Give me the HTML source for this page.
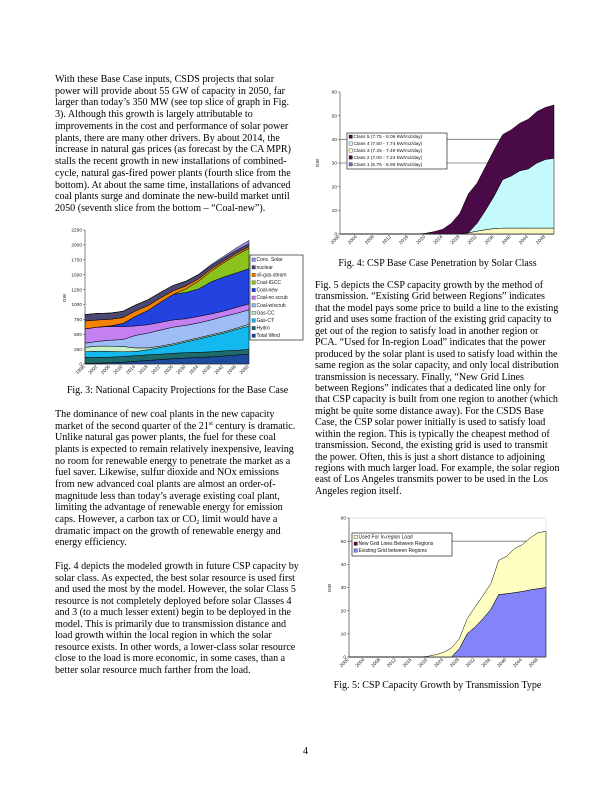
<!DOCTYPE html>
<html><head><meta charset="utf-8">
<style>
html,body{margin:0;padding:0;background:#fff;}
#page{position:relative;width:612px;height:792px;overflow:hidden;background:#fff;font-family:"Liberation Serif",serif;color:#000;}
.ln{position:absolute;white-space:nowrap;font-size:10.1px;line-height:11px;}
.ln sup,.ln sub{font-size:6px;line-height:0;vertical-align:baseline;position:relative;}
.ln sup{top:-4px;}
.ln sub{top:2px;}
.cap{position:absolute;white-space:nowrap;font-size:10px;text-align:center;}
svg{position:absolute;left:0;top:0;}
svg text{font-family:"Liberation Sans",sans-serif;}
</style></head><body>
<div id="page">
<div id="left-col"></div>
<div id="right-col"></div>
<div class="cap" style="left:55px;width:245px;top:385px;">Fig. 3: National Capacity Projections for the Base Case</div>
<div class="cap" style="left:315px;width:245px;top:258px;">Fig. 4: CSP Base Case Penetration by Solar Class</div>
<div class="cap" style="left:315px;width:245px;top:680px;">Fig. 5: CSP Capacity Growth by Transmission Type</div>
<div class="ln" style="left:303px;top:746px;">4</div>
<svg id="charts" width="612" height="792"></svg>
</div>
<script>
// ---------- Fig 3 data ----------
const f3Years = [1998,2002,2006,2010,2014,2018,2022,2026,2030,2034,2038,2042,2046,2050];
const f3Names = ["Total Wind","Hydro","Gas-CT","Gas-CC","Coal-w/scrub","Coal-no scrub","Coal-new","Coal-IGCC","oil-gas-steam","nuclear","Conc. Solar"];
const f3Wind = [10,15,20,30,45,60,75,90,100,110,120,135,150,165];
const f3Hydro = [100,95,95,95,95,95,90,90,90,85,85,85,80,80];
const f3GasCT = [95,105,95,80,70,85,115,140,180,225,265,300,350,395];
const f3GasCC = [75,85,90,90,60,30,20,20,20,20,20,20,20,30];
const f3CoalScrub = [70,80,100,115,210,250,270,280,260,250,250,260,250,240];
const f3CoalNoScrub = [240,240,230,215,160,140,130,120,110,110,100,90,100,100];
const f3CoalNew = [0,0,10,55,160,240,340,430,440,460,540,570,580,590];
const f3CoalIGCC = [0,0,0,0,0,0,0,0,60,130,180,240,300,340];
const f3OilGas = [130,120,110,100,90,80,70,60,50,40,35,30,30,30];
const f3Nuclear = [110,110,105,105,100,100,95,90,80,70,60,55,50,50];
const f3Solar = [0,0,0,0,0,0,0,0,2,5,15,25,40,55];
const f3YTicks = [0,250,500,750,1000,1250,1500,1750,2000,2250];
// ---------- Fig 4 data ----------
const f4Years = [2000,2002,2004,2006,2008,2010,2012,2014,2016,2018,2020,2022,2024,2026,2028,2030,2032,2034,2036,2038,2040,2042,2044,2046,2048,2050];
const f4Class1 = [0,0,0,0,0,0,0,0,0,0,0,0,0,0,0,0,0,0,0,0,0,0,0,0,0,0];
const f4Class2 = [0,0,0,0,0,0,0,0,0,0,0,0,0,0,0,0,0,0,0,0,0,0,0,0,0,0];
const f4Class3 = [0,0,0,0,0,0,0,0,0,0,0,0,0,0,0,0.5,1.2,1.8,2.3,2.5,2.5,2.5,2.5,2.5,2.5,2.5];
const f4Class4 = [0,0,0,0,0,0,0,0,0,0,0,0,0,0,0,0.1,3.3,8.2,13.7,20.5,22,24.2,25,27.5,29,29.5];
const f4Class5 = [0,0,0,0,0,0,0,0,0,0,0.3,1,2,4.5,8.7,16.4,16.9,18.4,19.5,19,19.5,20.1,21,21.7,22,22.5];
const f4XTicks = [2000,2004,2008,2012,2016,2020,2024,2028,2032,2036,2040,2044,2048];
const f4YTicks = [0,10,20,30,40,50,60];
// ---------- Fig 5 data ----------
const f5Existing = [0,0,0,0,0,0,0,0,0,0,0,0,0,0,3.6,10,13,16.5,20.6,27,27.3,27.8,28.3,29,29.5,30];
const f5NewLines = [0,0,0,0,0,0,0,0,0,0,0,0,0,0,0,0,0,0,0,0,0,0,0,0,0,0];
const f5InRegion = [0,0,0,0,0,0,0,0,0,0,0.3,1,2,3.9,4.3,6.5,8.6,10,11,14.7,16.2,19,20.2,22.4,24.2,24.2];

const NS="http://www.w3.org/2000/svg";
const svg=document.getElementById('charts');
function mk(tag,attrs,parent){const e=document.createElementNS(NS,tag);for(const k in attrs)e.setAttribute(k,attrs[k]);(parent||svg).appendChild(e);return e;}
function txt(s,attrs,parent){const t=mk('text',attrs,parent);t.textContent=s;return t;}

function chart(cfg){
  const g=mk('g',{});
  
  
  const xs=v=>cfg.x0+(v-cfg.xmin)/(cfg.xmax-cfg.xmin)*(cfg.x1-cfg.x0);
  const ys=v=>cfg.y0-(v-cfg.ymin)/(cfg.ymax-cfg.ymin)*(cfg.y0-cfg.y1);
  if(cfg.border){const b=mk('rect',{x:cfg.x0,y:cfg.y1,width:cfg.x1-cfg.x0,height:cfg.y0-cfg.y1,fill:'none',stroke:'#ccc','stroke-width':0.6},g);
    }
  (cfg.grid||[]).forEach(v=>{const l=mk('line',{x1:cfg.x0,x2:cfg.x1,y1:ys(v),y2:ys(v),stroke:'#777','stroke-width':0.8},g);
    });
  const cum=cfg.years.map(()=>0);
  cfg.series.forEach((s,si)=>{
    const lo=cum.slice();
    s.vals.forEach((v,i)=>cum[i]+=v);
    const hi=cum.slice();
    let d='';
    cfg.years.forEach((y,i)=>{d+=(i?'L':'M')+xs(y).toFixed(2)+','+ys(hi[i]).toFixed(2);});
    for(let i=cfg.years.length-1;i>=0;i--)d+='L'+xs(cfg.years[i]).toFixed(2)+','+ys(lo[i]).toFixed(2);
    d+='Z';
    const p=mk('path',{d:d,fill:s.color,stroke:'#000','stroke-width':0.5,'stroke-linejoin':'round'},g);
    
    
  });
  const ax=mk('path',{d:`M${cfg.x0},${cfg.y1}L${cfg.x0},${cfg.y0}L${cfg.x1},${cfg.y0}`,fill:'none',stroke:'#333','stroke-width':0.6},g);
  
  cfg.yTicks.forEach(v=>{
    mk('line',{x1:cfg.x0-2,x2:cfg.x0,y1:ys(v),y2:ys(v),stroke:'#333','stroke-width':0.5},g);
    const t=txt(String(v),{x:cfg.x0-3,y:ys(v)+1.7,'font-size':cfg.fs,'text-anchor':'end',fill:'#222'},g);
    
  });
  cfg.xTicks.forEach(v=>{
    const x=xs(v),y=cfg.y0+3;
    const t=txt(String(v),{x:x,y:y,'font-size':cfg.fs,'text-anchor':'end',fill:'#222',transform:`rotate(-45 ${x} ${y})`},g);
    
  });
  const yt=txt('GW',{x:cfg.ytx,y:cfg.yty,'font-size':cfg.fs,'text-anchor':'middle',fill:'#222',transform:`rotate(-90 ${cfg.ytx} ${cfg.yty})`},g);
  
  const L=cfg.legend;
  const lg=mk('g',{},g);
  mk('rect',{x:L.x,y:L.y,width:L.w,height:L.h,fill:'#fff',stroke:'#000','stroke-width':0.6},lg);
  L.items.forEach((it,i)=>{
    const yy=L.y+L.pad+i*L.step;
    const e=mk('g',{},lg);
    mk('rect',{x:L.x+2,y:yy-3.2,width:3.4,height:3.4,fill:it.color,stroke:'#000','stroke-width':0.3},e);
    txt(it.label,{x:L.x+6.5,y:yy,'font-size':L.fs,fill:'#111'},e);
  });
}

// Fig 3
const f3Series=[
 {key:'total-wind',vals:f3Wind,color:'#1d4a9c'},
 {key:'hydro',vals:f3Hydro,color:'#1e6b6b'},
 {key:'gas-ct',vals:f3GasCT,color:'#12b8ee'},
 {key:'gas-cc',vals:f3GasCC,color:'#c8f0c8'},
 {key:'coal-w-scrub',vals:f3CoalScrub,color:'#9ebcf6'},
 {key:'coal-no-scrub',vals:f3CoalNoScrub,color:'#c47ff0'},
 {key:'coal-new',vals:f3CoalNew,color:'#2343e0'},
 {key:'coal-igcc',vals:f3CoalIGCC,color:'#8cc21e'},
 {key:'oil-gas-steam',vals:f3OilGas,color:'#f28200'},
 {key:'nuclear',vals:f3Nuclear,color:'#4a4870'},
 {key:'conc-solar',vals:f3Solar,color:'#9494ee'}];
chart({name:'fig3-chart',years:f3Years,series:f3Series,x0:85,x1:249,y0:364,y1:230,xmin:1998,xmax:2050,ymin:0,ymax:2250,
 yTicks:f3YTicks,xTicks:f3Years,fs:4.8,ytx:66,yty:298,
 legend:{x:250,y:255,w:53,h:85,pad:6.2,step:7.6,fs:5,items:f3Series.map((s,i)=>({color:s.color,label:f3Names[i]})).reverse()}});

// Fig 4
const f4Series=[
 {key:'class-1',vals:f4Class1,color:'#7070d0'},
 {key:'class-2',vals:f4Class2,color:'#4a0a48'},
 {key:'class-3',vals:f4Class3,color:'#fafac0'},
 {key:'class-4',vals:f4Class4,color:'#c4fafc'},
 {key:'class-5',vals:f4Class5,color:'#4a0a48'}];
chart({name:'fig4-chart',years:f4Years,series:f4Series,x0:340,x1:554,y0:234,y1:92,xmin:2000,xmax:2050,ymin:0,ymax:60,
 yTicks:f4YTicks,xTicks:f4XTicks,fs:4.8,grid:[30,40],ytx:319,yty:163,
 legend:{x:347,y:133,w:100,h:36,pad:5.2,step:6.9,fs:4.8,items:[
  {color:'#4a0a48',label:'Class 5 (7.75 - 8.06 kW/m2/day)'},
  {color:'#c4fafc',label:'Class 4 (7.50 - 7.74 kW/m2/day)'},
  {color:'#fafac0',label:'Class 3 (7.25 - 7.49 kW/m2/day)'},
  {color:'#4a0a48',label:'Class 2 (7.00 - 7.24 kW/m2/day)'},
  {color:'#7070d0',label:'Class 1 (6.75 - 6.99 kW/m2/day)'}]}});

// Fig 5
const f5Series=[
 {key:'existing-grid',vals:f5Existing,color:'#8484fa'},
 {key:'new-grid-lines',vals:f5NewLines,color:'#5a1030'},
 {key:'in-region-load',vals:f5InRegion,color:'#ffffc4'}];
chart({name:'fig5-chart',years:f4Years,series:f5Series,x0:349,x1:546,y0:657,y1:518,xmin:2000,xmax:2050,ymin:0,ymax:60,
 yTicks:f4YTicks,xTicks:f4XTicks,fs:4.8,grid:[50],border:true,ytx:331,yty:588,
 legend:{x:352,y:533,w:100,h:23,pad:5.4,step:6.8,fs:5,items:[
  {color:'#ffffc4',label:'Used For In-region Load'},
  {color:'#5a1030',label:'New Grid Lines Between Regions'},
  {color:'#8484fa',label:'Existing Grid between Regions'}]}});

// ---------- Text ----------
const leftBlocks=[
 {top:74,step:11.73,lines:[
 "With these Base Case inputs, CSDS projects that solar",
 "power will provide about 55 GW of capacity in 2050, far",
 "larger than today\u2019s 350 MW (see top slice of graph in Fig.",
 "3).  Although this growth is largely attributable to",
 "improvements in the cost and performance of solar power",
 "plants, there are many other drivers.  By about 2014, the",
 "increase in natural gas prices (as forecast by the CA MPR)",
 "stalls the recent growth in new installations of combined-",
 "cycle, natural gas-fired power plants (fourth slice from the",
 "bottom).  At about the same time, installations of advanced",
 "coal plants surge and dominate the new-build market until",
 "2050 (seventh slice from the bottom \u2013 \u201cCoal-new\u201d)."]},
 {top:409,step:11.65,lines:[
 "The dominance of new coal plants in the new capacity",
 "market of the second quarter of the 21<sup>st</sup> century is dramatic.",
 "Unlike natural gas power plants, the fuel for these coal",
 "plants is expected to remain relatively inexpensive, leaving",
 "no room for renewable energy to penetrate the market as a",
 "fuel saver.  Likewise, sulfur dioxide and NOx emissions",
 "from new advanced coal plants are almost an order-of-",
 "magnitude less than today\u2019s average existing coal plant,",
 "limiting the advantage of renewable energy for emission",
 "caps.  However, a carbon tax or CO<sub>2</sub> limit would have a",
 "dramatic impact on the growth of renewable energy and",
 "energy efficiency."]},
 {top:561,step:11.56,lines:[
 "Fig. 4 depicts the modeled growth in future CSP capacity by",
 "solar class. As expected, the best solar resource is used first",
 "and used the most by the model. However, the solar Class 5",
 "resource is not completely deployed before solar Classes 4",
 "and 3 (to a much lesser extent) begin to be deployed in the",
 "model. This is primarily due to transmission distance and",
 "load growth within the local region in which the solar",
 "resource exists. In other words, a lower-class solar resource",
 "close to the load is more economic, in some cases, than a",
 "better solar resource much farther from the load."]}];
const rightBlocks=[
 {top:280,step:11.44,lines:[
 "Fig. 5 depicts the CSP capacity growth by the method of",
 "transmission. \u201cExisting Grid between Regions\u201d indicates",
 "that the model pays some price to build a line to the existing",
 "grid and uses some fraction of the existing grid capacity to",
 "get out of the region to satisfy load in another region or",
 "PCA. \u201cUsed for In-region Load\u201d indicates that the power",
 "produced by the solar plant is used to satisfy load within the",
 "same region as the solar capacity, and only local distribution",
 "transmission is necessary. Finally, \u201cNew Grid Lines",
 "between Regions\u201d indicates that a dedicated line only for",
 "that CSP capacity is built from one region to another (which",
 "might be quite some distance away). For the CSDS Base",
 "Case, the CSP solar power initially is used to satisfy load",
 "within the region. This is typically the cheapest method of",
 "transmission. Second, the existing grid is used to transmit",
 "the power. Often, this is just a short distance to adjoining",
 "regions with much larger load. For example, the solar region",
 "east of Los Angeles transmits power to be used in the Los",
 "Angeles region itself."]}];
function place(blocks,left,container){
 blocks.forEach(b=>b.lines.forEach((s,i)=>{
  const d=document.createElement('div');
  d.className='ln';
  d.style.left=left+'px';
  d.style.top=(b.top+i*b.step)+'px';
  d.innerHTML=s;
  
  
  container.appendChild(d);
 }));
}
place(leftBlocks,55,document.getElementById('left-col'));
place(rightBlocks,315,document.getElementById('right-col'));
</script>
</body></html>
